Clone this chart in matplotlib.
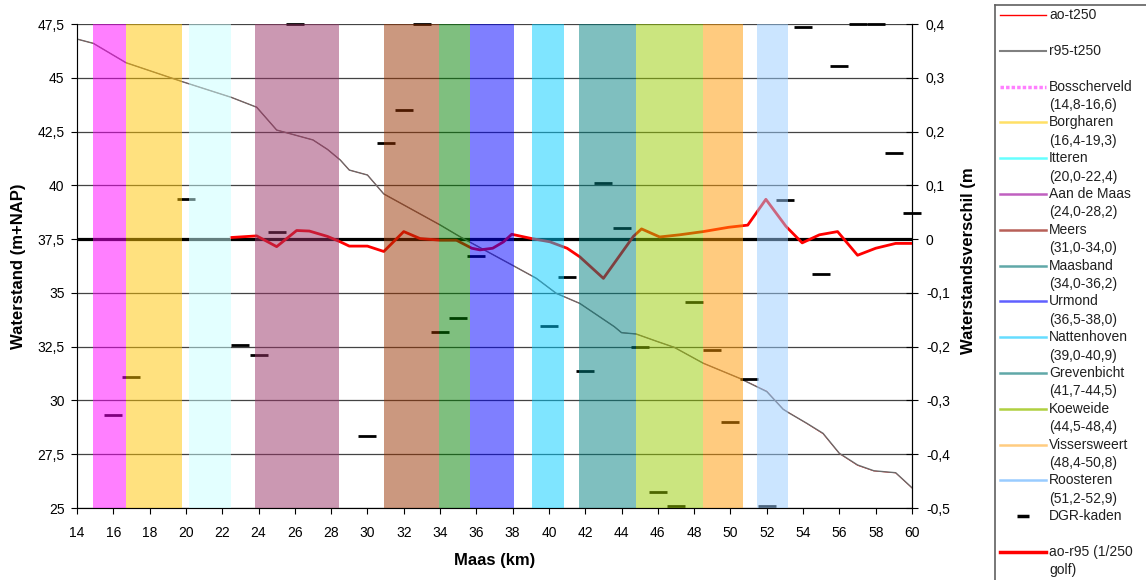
import matplotlib
matplotlib.use("Agg")
import matplotlib.pyplot as plt
from matplotlib.lines import Line2D
from matplotlib.ticker import FixedLocator, FuncFormatter

plt.rcParams['font.family'] = ['Liberation Sans', 'DejaVu Sans']
plt.rcParams['font.size'] = 10

# --- data ---------------------------------------------------------------
# waterstand langs de Maas (m+NAP), r95-t250 en ao-t250 vallen vrijwel samen
km_stand = [14, 14.9, 16.7, 19.8, 22.5, 23.9, 25.0, 27.0, 27.8, 28.5, 29.0, 30.0,
            30.9, 34.0, 35.1, 38.0, 39.3, 40.4, 41.7, 43.6, 44.0, 44.8, 46.0, 46.9,
            48.5, 50.5, 52.0, 52.9, 53.2, 54.2, 55.1, 56.0, 57.0, 57.9, 59.1, 60.0]
r95_t250 = [46.80, 46.60, 45.70, 44.82, 44.09, 43.63, 42.57, 42.11, 41.67, 41.18, 40.71, 40.48,
            39.60, 38.16, 37.61, 36.28, 35.68, 34.98, 34.51, 33.43, 33.15, 33.09, 32.73, 32.47,
            31.73, 31.03, 30.41, 29.59, 29.43, 28.94, 28.47, 27.54, 27.00, 26.73, 26.64, 25.94]
ao_t250 = [46.80, 46.60, 45.70, 44.82, 44.09, 43.63, 42.57, 42.11, 41.67, 41.18, 40.71, 40.48,
           39.60, 38.16, 37.61, 36.28, 35.68, 34.98, 34.51, 33.43, 33.15, 33.09, 32.73, 32.47,
           31.73, 31.03, 30.43, 29.60, 29.44, 28.93, 28.45, 27.53, 26.98, 26.72, 26.63, 25.93]

# verschil ao-r95 (m), rechter as
km_verschil = [22.5, 23.9, 25.0, 26.1, 26.8, 27.8, 28.5, 29.0, 30.0, 30.9, 32.0, 32.9, 34.0,
               34.9, 35.75, 36.2, 36.9, 37.5, 37.95, 39.05, 40.05, 41.0, 41.7, 43.0, 44.65,
               45.1, 46.1, 47.2, 48.5, 49.9, 50.95, 51.95, 53.05, 53.95, 54.9, 55.9, 57.0,
               58.0, 59.1, 60.0]
ao_r95 = [0.003, 0.006, -0.014, 0.016, 0.015, 0.005, -0.005, -0.013, -0.013, -0.023, 0.014,
          0.001, -0.002, -0.002, -0.017, -0.020, -0.017, -0.005, 0.009, 0.001, -0.005, -0.017,
          -0.033, -0.073, 0.005, 0.019, 0.004, 0.008, 0.014, 0.022, 0.026, 0.074, 0.024,
          -0.007, 0.008, 0.014, -0.030, -0.017, -0.008, -0.008]

# DGR-kaden (rechter as, waarden buiten bereik afgekapt op de rand)
km_dgr = [16, 17, 20, 23, 24, 25, 26, 30, 31, 32, 33, 34, 35, 36, 40, 41, 42, 43, 44, 45,
          46, 47, 48, 49, 50, 51, 52, 53, 54, 55, 56, 57, 58, 59, 60]
dgr = [-0.327, -0.257, 0.075, -0.196, -0.215, 0.013, 0.40, -0.367, 0.178, 0.241, 0.40,
       -0.173, -0.147, -0.031, -0.162, -0.070, -0.245, 0.104, 0.020, -0.200, -0.470, -0.497,
       -0.117, -0.206, -0.340, -0.260, -0.497, 0.073, 0.395, -0.064, 0.322, 0.40, 0.40,
       0.160, 0.048]

# trajecten (zoals getekend) en hun legendalabels
traject_naam = ["Bosscherveld", "Borgharen", "Itteren", "Aan de Maas", "Meers", "Maasband",
                "Urmond", "Nattenhoven", "Grevenbicht", "Koeweide", "Vissersweert", "Roosteren"]
traject_bereik = ["14,8-16,6", "16,4-19,3", "20,0-22,4", "24,0-28,2", "31,0-34,0", "34,0-36,2",
                  "36,5-38,0", "39,0-40,9", "41,7-44,5", "44,5-48,4", "48,4-50,8", "51,2-52,9"]
traject_van = [14.9, 16.7, 20.15, 23.8, 30.93, 33.96, 35.65, 39.05, 41.67, 44.8, 48.5, 51.47]
traject_tot = [16.7, 19.8, 22.5, 28.45, 33.96, 35.65, 38.08, 40.83, 44.8, 48.5, 50.68, 53.16]

# --- stijl ----------------------------------------------------------------
kleur_vlak = ["#ff00ff", "#ffc400", "#c8ffff", "#993366", "#993300", "#008000",
              "#0000ff", "#00ccff", "#008080", "#99cc00", "#ff9900", "#99ccff"]
kleur_legenda = ["#ff80ff", "#ffe066", "#66ffff", "#c060c0", "#b86058", "#60a8a8",
                 "#6060ff", "#66ddff", "#60a8a8", "#b0d040", "#ffcc80", "#99ccff"]


def komma(v, _pos=None):
    s = f"{v:.2f}".rstrip("0").rstrip(".")
    return s.replace(".", ",")


fig = plt.figure(figsize=(11.46, 5.8), dpi=100)
ax = fig.add_axes([77 / 1146, 1 - 508 / 580, 835 / 1146, 484 / 580])

ax.plot(km_stand, ao_t250, color="red", lw=0.5, zorder=2)
ax.plot(km_stand, r95_t250, color="#6a6a6a", lw=1.0, zorder=3)
ax.axhline(37.5, color="black", lw=2.3, zorder=2)

ax.set_xlim(14, 60)
ax.set_ylim(25, 47.5)
ax.xaxis.set_major_locator(FixedLocator(range(14, 61, 2)))
ax.yaxis.set_major_locator(FixedLocator([25 + 2.5 * i for i in range(10)]))
ax.yaxis.set_major_formatter(FuncFormatter(komma))
ax.grid(axis="y", color="#444444", lw=0.9)
ax.set_axisbelow(True)
ax.tick_params(axis="y", direction="out", length=4, pad=5, labelsize=10)
ax.tick_params(axis="x", direction="out", length=4, pad=9, labelsize=10)
for t in ax.yaxis.get_major_ticks():
    if abs(t.get_loc() - 37.5) < 1e-6:
        t.tick1line.set_markeredgewidth(2.5)
ax.spines["top"].set_visible(False)
for s in ["left", "bottom"]:
    ax.spines[s].set_color("#808080")
ax.set_xlabel("Maas (km)", fontsize=12, fontweight="bold", labelpad=9)
ax.set_ylabel("Waterstand (m+NAP)", fontsize=12, fontweight="bold")
ax.yaxis.set_label_coords(-0.061, 0.5)

ax2 = ax.twinx()
ax2.set_ylim(-0.5, 0.4)
ax2.yaxis.set_major_locator(FixedLocator([-0.5 + 0.1 * i for i in range(10)]))
ax2.yaxis.set_major_formatter(FuncFormatter(komma))
ax2.tick_params(axis="y", direction="inout", length=8, pad=6, labelsize=10)
ax2.spines["top"].set_visible(False)
ax2.spines["right"].set_color("black")
ax2.set_ylabel("Waterstandsverschil (m", fontsize=12, fontweight="bold")
ax2.yaxis.set_label_coords(1.0587, 0.51)

ax2.plot(km_verschil, ao_r95, color="red", lw=2.0, zorder=3)
ax2.plot(km_dgr, dgr, ls="none", marker="_", ms=13, mew=2, color="black",
         zorder=4, clip_on=False)

for van, tot, kl in zip(traject_van, traject_tot, kleur_vlak):
    ax2.axvspan(van, tot, color=kl, alpha=0.5, lw=0, zorder=6)

# --- legenda (handmatig, loopt door buiten de figuur) -------------------
lax = fig.add_axes([995 / 1146, 0, 151 / 1146, 575 / 580])
lax.set_xlim(0, 151)
lax.set_ylim(575, 0)
lax.set_xticks([])
lax.set_yticks([])
for s in ["right", "bottom"]:
    lax.spines[s].set_visible(False)
for s in ["left", "top"]:
    lax.spines[s].set_color("#606060")
    lax.spines[s].set_linewidth(1.2)

items = [("ao-t250\n", dict(color="red", lw=1)),
         ("r95-t250\n", dict(color="#808080", lw=1.5))]
for naam, bereik, kl in zip(traject_naam, traject_bereik, kleur_legenda):
    stijl = dict(color=kl, lw=1.8)
    if naam == "Bosscherveld":
        stijl.update(ls=(0, (1, 0.6)), lw=2.5)
    items.append((f"{naam}\n({bereik})", stijl))
items.append(("DGR-kaden\n", dict(marker="_", ls="none", ms=9, mew=2.5, color="black")))
items.append(("ao-r95 (1/250\ngolf)", dict(color="red", lw=2.5)))

for i, (tekst, stijl) in enumerate(items):
    y = 10 + 35.8 * i
    if stijl.get("marker"):
        lax.add_line(Line2D([28], [y], **stijl))
    else:
        lax.add_line(Line2D([5, 51], [y, y], **stijl))
    lax.text(54, y - 7, tekst, fontsize=10, color="#202020", va="top", ha="left",
             linespacing=1.4)

fig.savefig("out.png", dpi=100)
